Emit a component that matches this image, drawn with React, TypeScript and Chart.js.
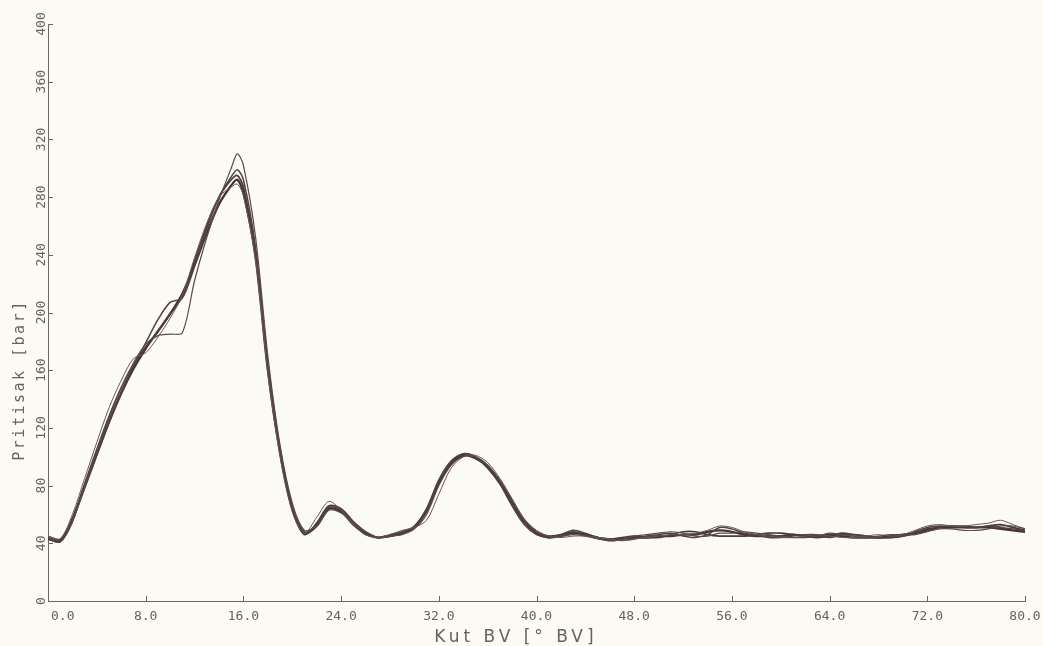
import React, { useEffect, useRef } from 'react';
import { Chart, registerables } from 'chart.js';

Chart.register(...registerables);

// Crank angle positions [° BV]
const angles = [
  0, 1, 2, 3, 4, 5, 6, 7, 8, 9, 10, 11, 12, 13, 14, 15, 15.5, 16, 17, 18, 19, 20,
  21, 22, 23, 24, 25, 26, 27, 28, 29, 30, 31, 32, 33, 34, 35, 36, 37, 38, 39, 40,
  41, 42, 43, 44, 45, 46, 47, 48, 49, 50, 51, 52, 53, 54, 55, 56, 57, 58, 59, 60,
  61, 62, 63, 64, 65, 66, 67, 68, 69, 70, 71, 72, 73, 74, 75, 76, 77, 78, 79, 80,
];

// Pressure traces [bar], several overlapping cycles
const cycleA = [
  43, 42, 57, 80, 102, 124, 144, 161, 175, 187, 199, 213, 233, 255, 275, 288, 292, 283, 238, 160, 103, 64,
  47, 52, 64, 62, 53, 47, 44, 45, 47, 51, 63, 82, 95, 101, 99, 93, 82, 68, 55, 47,
  44, 45, 47, 46, 44, 42, 43, 44, 44, 45, 45, 46, 46, 48, 49, 48, 46, 45, 45, 45,
  46, 45, 45, 46, 45, 44, 44, 44, 45, 46, 47, 49, 51, 51, 51, 51, 51, 50, 49, 48,
];
const cycleB = [
  44, 42, 56, 78, 101, 124, 145, 163, 179, 195, 207, 210, 232, 258, 280, 294, 299, 292, 245, 166, 106, 66,
  48, 53, 65, 63, 53, 46, 44, 46, 48, 52, 64, 84, 97, 102, 100, 92, 81, 66, 53, 46,
  44, 46, 49, 47, 44, 43, 42, 43, 45, 46, 47, 45, 44, 46, 51, 50, 47, 46, 44, 44,
  45, 46, 46, 44, 46, 46, 45, 44, 44, 45, 48, 51, 52, 52, 52, 51, 52, 51, 50, 49,
];
const cycleC = [
  45, 43, 56, 79, 104, 127, 148, 165, 178, 184, 185, 186, 222, 252, 278, 300, 310, 302, 252, 170, 108, 68,
  49, 52, 63, 61, 54, 48, 44, 45, 46, 50, 60, 80, 94, 100, 100, 94, 84, 70, 56, 48,
  45, 45, 46, 45, 43, 42, 43, 45, 46, 47, 48, 47, 45, 45, 47, 47, 48, 47, 46, 45,
  44, 44, 45, 47, 46, 45, 44, 45, 46, 46, 46, 48, 50, 50, 49, 49, 50, 52, 52, 50,
];
const cycleD = [
  43, 41, 55, 81, 105, 128, 148, 164, 176, 187, 199, 211, 236, 260, 280, 292, 295, 287, 240, 162, 104, 64,
  46, 54, 66, 64, 55, 48, 44, 45, 47, 51, 62, 81, 96, 102, 100, 94, 83, 69, 56, 48,
  45, 46, 48, 46, 44, 43, 44, 45, 44, 44, 46, 48, 48, 46, 45, 45, 45, 46, 47, 47,
  46, 45, 44, 45, 47, 46, 45, 44, 44, 45, 47, 50, 51, 52, 51, 51, 52, 53, 51, 49,
];
const cycleE = [
  44, 43, 60, 85, 110, 134, 153, 168, 172, 183, 196, 212, 238, 262, 280, 287, 289, 281, 236, 158, 100, 62,
  47, 58, 69, 63, 53, 46, 44, 46, 49, 51, 56, 74, 92, 100, 101, 96, 85, 71, 57, 49,
  45, 44, 45, 45, 44, 43, 42, 43, 44, 45, 46, 46, 47, 49, 52, 51, 48, 46, 45, 44,
  44, 45, 46, 45, 44, 44, 45, 46, 45, 46, 49, 52, 53, 52, 52, 53, 54, 56, 53, 50,
];

const xTickValues = [0, 8, 16, 24, 32, 40, 48, 56, 64, 72, 80];
const xTickLabels = ['0.0', '8.0', '16.0', '24.0', '32.0', '40.0', '48.0', '56.0', '64.0', '72.0', '80.0'];
const yTickValues = [0, 40, 80, 120, 160, 200, 240, 280, 320, 360, 400];
const yTickLabels = ['0', '40', '80', '120', '160', '200', '240', '280', '320', '360', '400'];

const yTitle = 'Pritisak [bar]';
const xTitle = 'Kut BV [° BV]';

const BG = '#fbfaf5';
const AXIS = '#6e6464';
const TEXT = '#6a6060';
const INK = '#4a3b3b';

export default function App() {
  const ref = useRef<HTMLCanvasElement | null>(null);

  useEffect(() => {
    document.body.style.margin = '0';
    document.body.style.background = BG;
    const canvas = ref.current;
    if (!canvas) return;

    const series = [
      { data: cycleC, width: 1.2, color: '#5b4a4a' },
      { data: cycleE, width: 1.0, color: '#6a5858' },
      { data: cycleB, width: 1.5, color: '#514141' },
      { data: cycleD, width: 1.7, color: INK },
      { data: cycleA, width: 2.3, color: '#463535' },
    ];

    const decor = {
      id: 'decor',
      beforeDraw(chart: any) {
        const c = chart.ctx;
        c.save();
        c.fillStyle = BG;
        c.fillRect(0, 0, chart.width, chart.height);
        c.restore();
      },
      afterDraw(chart: any) {
        const c = chart.ctx;
        const { x, y } = chart.scales;
        const area = chart.chartArea;
        c.save();
        c.strokeStyle = AXIS;
        c.lineWidth = 1;
        yTickValues.forEach((v) => {
          const py = Math.round(y.getPixelForValue(v)) + 0.5;
          c.beginPath();
          c.moveTo(area.left, py);
          c.lineTo(area.left + 5, py);
          c.stroke();
        });
        xTickValues.forEach((v) => {
          const px = Math.round(x.getPixelForValue(v)) + 0.5;
          c.beginPath();
          c.moveTo(px, area.bottom);
          c.lineTo(px, area.bottom - 5);
          c.stroke();
        });
        c.fillStyle = TEXT;
        c.textBaseline = 'middle';
        // x tick labels
        c.font = '13px "DejaVu Sans Mono"';
        xTickValues.forEach((v, i) => {
          const px = x.getPixelForValue(v);
          c.textAlign = i === 0 ? 'left' : 'center';
          c.fillText(xTickLabels[i], i === 0 ? px + 3 : px, area.bottom + 16);
        });
        c.textAlign = 'center';
        // y title
        c.save();
        c.font = '15px "DejaVu Sans Mono"';
        (c as any).letterSpacing = '2.5px';
        c.translate(20, 380);
        c.rotate(-Math.PI / 2);
        c.fillText(yTitle, 0, 0);
        c.restore();
        // x title
        c.save();
        c.font = '17px "DejaVu Sans"';
        (c as any).letterSpacing = '4px';
        c.fillText(xTitle, 516, 638);
        c.restore();
        c.restore();
      },
    };

    const chart = new Chart(canvas, {
      type: 'line',
      data: {
        datasets: series.map((s, i) => ({
          label: 'cycle ' + (i + 1),
          data: angles.map((a, k) => ({ x: a, y: s.data[k] })),
          borderColor: s.color,
          borderWidth: s.width,
          pointRadius: 0,
          fill: false,
          tension: 0.3,
        })),
      },
      options: {
        responsive: false,
        animation: false,
        events: [],
        layout: { padding: { top: 24, right: 18, left: 0, bottom: 0 } },
        plugins: { legend: { display: false }, tooltip: { enabled: false } },
        scales: {
          x: {
            type: 'linear',
            min: 0,
            max: 80,
            afterFit: (s: any) => {
              s.height = 45;
              s.paddingLeft = 0;
              s.paddingRight = 0;
            },
            afterBuildTicks: (s: any) => { s.ticks = xTickValues.map((v) => ({ value: v })); },
            grid: { display: false, drawTicks: false },
            border: { display: true, color: AXIS, width: 1 },
            ticks: { display: false },
          },
          y: {
            type: 'linear',
            min: 0,
            max: 400,
            afterFit: (s: any) => { s.width = 48; },
            afterBuildTicks: (s: any) => { s.ticks = yTickValues.map((v) => ({ value: v })); },
            grid: { display: false, drawTicks: false },
            border: { display: true, color: AXIS, width: 1 },
            ticks: {
              autoSkip: false,
              minRotation: 90,
              maxRotation: 90,
              crossAlign: 'center',
              padding: -5,
              color: TEXT,
              font: { family: '"DejaVu Sans Mono"', size: 13 },
              callback: (v: any) => yTickLabels[yTickValues.indexOf(Number(v))] ?? '',
            },
          },
        },
      },
      plugins: [decor],
    });

    return () => chart.destroy();
  }, []);

  return (
    <div style={{ position: 'absolute', left: 0, top: 0, width: 1043, height: 646 }}>
      <canvas ref={ref} width={1043} height={646} style={{ width: 1043, height: 646, display: 'block' }} />
    </div>
  );
}
